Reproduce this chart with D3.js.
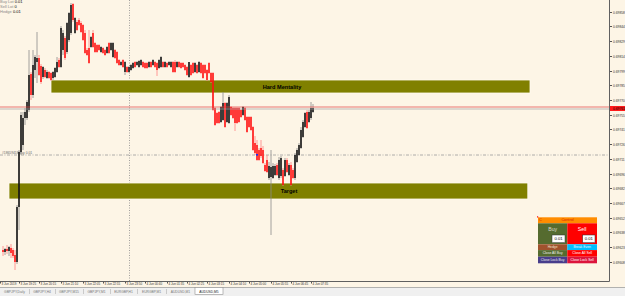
<!DOCTYPE html>
<html><head><meta charset="utf-8">
<script src="https://cdn.jsdelivr.net/npm/d3@7"></script>
<style>
body{margin:0;background:#fdf5e6;}
svg{display:block;font-family:"Liberation Sans",Arial,sans-serif;}
</style>
</head><body>
<svg id="chart" width="625" height="296"></svg>
<script>
// ---------- DATA (AUDUSD, M5) ----------
const opens = [
0.69620,0.69618,0.69621,0.69619,0.69622,0.69620,0.69615,0.69608,0.69663,0.69718,
0.69725,0.69752,0.69752,0.69760,0.69796,0.69775,0.69800,0.69808,0.69812,0.69804,
0.69793,0.69800,0.69792,0.69798,0.69797,0.69792,0.69793,0.69798,0.69810,0.69803,
0.69820,0.69832,0.69818,0.69830,0.69837,0.69866,0.69837,0.69848,0.69850,0.69847,
0.69845,0.69837,0.69820,0.69822,0.69823,0.69837,0.69827,0.69825,0.69825,0.69818,
0.69822,0.69820,0.69817,0.69827,0.69820,0.69813,0.69820,0.69818,0.69810,0.69805,
0.69810,0.69798,0.69803,0.69798,0.69800,0.69802,0.69808,0.69805,0.69803,0.69805,
0.69808,0.69807,0.69807,0.69803,0.69808,0.69805,0.69808,0.69807,0.69802,0.69803,
0.69808,0.69803,0.69807,0.69805,0.69803,0.69808,0.69808,0.69803,0.69808,0.69807,
0.69807,0.69805,0.69803,0.69793,0.69805,0.69807,0.69798,0.69805,0.69798,0.69807,
0.69805,0.69805,0.69800,0.69807,0.69797,0.69797,0.69762,0.69757,0.69758,0.69748,
0.69750,0.69767,0.69748,0.69747,0.69763,0.69762,0.69762,0.69762,0.69762,0.69760,
0.69755,0.69762,0.69753,0.69753,0.69753,0.69743,0.69727,0.69725,0.69720,0.69722,
0.69720,0.69705,0.69710,0.69692,0.69693,0.69692,0.69695,0.69705,0.69692,0.69694,
0.69700,0.69694,0.69710,0.69695,0.69705,0.69700,0.69692,0.69708,0.69715,0.69722,
0.69733,0.69743,0.69758,0.69748,0.69752,0.69758];
const highs = [
0.69624,0.69622,0.69625,0.69624,0.69626,0.69622,0.69620,0.69665,0.69720,0.69758,
0.69758,0.69762,0.69770,0.69820,0.69798,0.69820,0.69815,0.69838,0.69815,0.69806,
0.69804,0.69802,0.69800,0.69799,0.69798,0.69799,0.69803,0.69813,0.69812,0.69844,
0.69840,0.69834,0.69848,0.69858,0.69867,0.69867,0.69853,0.69850,0.69852,0.69849,
0.69846,0.69840,0.69822,0.69840,0.69834,0.69840,0.69828,0.69826,0.69826,0.69824,
0.69823,0.69821,0.69824,0.69828,0.69828,0.69828,0.69821,0.69819,0.69811,0.69809,
0.69811,0.69809,0.69804,0.69804,0.69806,0.69808,0.69809,0.69809,0.69810,0.69811,
0.69809,0.69808,0.69808,0.69809,0.69809,0.69811,0.69809,0.69808,0.69811,0.69814,
0.69809,0.69809,0.69808,0.69809,0.69809,0.69809,0.69810,0.69809,0.69809,0.69808,
0.69808,0.69806,0.69804,0.69808,0.69806,0.69808,0.69808,0.69806,0.69809,0.69808,
0.69806,0.69806,0.69801,0.69808,0.69798,0.69798,0.69763,0.69758,0.69759,0.69764,
0.69778,0.69768,0.69768,0.69775,0.69764,0.69763,0.69763,0.69763,0.69763,0.69761,
0.69764,0.69763,0.69754,0.69754,0.69754,0.69744,0.69734,0.69730,0.69722,0.69730,
0.69724,0.69707,0.69715,0.69708,0.69720,0.69707,0.69706,0.69707,0.69713,0.69714,
0.69702,0.69712,0.69712,0.69707,0.69708,0.69702,0.69717,0.69722,0.69727,0.69743,
0.69750,0.69758,0.69760,0.69760,0.69768,0.69766];
const lows = [
0.69614,0.69615,0.69616,0.69614,0.69612,0.69612,0.69600,0.69606,0.69640,0.69715,
0.69720,0.69745,0.69750,0.69758,0.69770,0.69772,0.69792,0.69787,0.69794,0.69786,
0.69791,0.69792,0.69791,0.69791,0.69789,0.69790,0.69792,0.69797,0.69802,0.69802,
0.69815,0.69810,0.69816,0.69828,0.69835,0.69848,0.69836,0.69839,0.69844,0.69837,
0.69829,0.69816,0.69814,0.69806,0.69822,0.69822,0.69817,0.69817,0.69819,0.69817,
0.69816,0.69814,0.69816,0.69816,0.69819,0.69812,0.69811,0.69806,0.69804,0.69804,
0.69802,0.69795,0.69797,0.69797,0.69799,0.69801,0.69802,0.69804,0.69802,0.69804,
0.69802,0.69801,0.69801,0.69802,0.69802,0.69804,0.69802,0.69794,0.69801,0.69802,
0.69802,0.69802,0.69802,0.69804,0.69802,0.69797,0.69797,0.69802,0.69802,0.69801,
0.69802,0.69799,0.69794,0.69792,0.69794,0.69796,0.69797,0.69796,0.69797,0.69796,
0.69791,0.69796,0.69789,0.69796,0.69787,0.69759,0.69744,0.69746,0.69746,0.69747,
0.69749,0.69742,0.69747,0.69746,0.69754,0.69751,0.69739,0.69746,0.69747,0.69752,
0.69754,0.69749,0.69737,0.69742,0.69739,0.69719,0.69715,0.69709,0.69709,0.69712,
0.69706,0.69698,0.69697,0.69690,0.69635,0.69691,0.69694,0.69694,0.69690,0.69692,
0.69684,0.69693,0.69697,0.69694,0.69684,0.69691,0.69690,0.69707,0.69714,0.69721,
0.69732,0.69742,0.69741,0.69747,0.69750,0.69757];
const closes = [
0.69618,0.69621,0.69619,0.69623,0.69617,0.69614,0.69608,0.69663,0.69718,0.69755,
0.69752,0.69758,0.69768,0.69795,0.69775,0.69805,0.69813,0.69812,0.69795,0.69788,
0.69803,0.69793,0.69798,0.69792,0.69790,0.69798,0.69802,0.69808,0.69803,0.69842,
0.69837,0.69812,0.69847,0.69857,0.69865,0.69850,0.69852,0.69840,0.69845,0.69838,
0.69830,0.69817,0.69815,0.69807,0.69833,0.69823,0.69818,0.69818,0.69820,0.69823,
0.69817,0.69815,0.69823,0.69817,0.69827,0.69827,0.69812,0.69807,0.69805,0.69808,
0.69803,0.69808,0.69798,0.69803,0.69805,0.69807,0.69803,0.69808,0.69809,0.69810,
0.69803,0.69802,0.69802,0.69808,0.69803,0.69810,0.69803,0.69800,0.69810,0.69813,
0.69803,0.69808,0.69803,0.69808,0.69808,0.69798,0.69798,0.69808,0.69803,0.69802,
0.69803,0.69800,0.69795,0.69808,0.69795,0.69797,0.69807,0.69797,0.69808,0.69797,
0.69792,0.69797,0.69790,0.69797,0.69788,0.69760,0.69745,0.69747,0.69747,0.69763,
0.69767,0.69743,0.69767,0.69773,0.69755,0.69752,0.69747,0.69747,0.69748,0.69753,
0.69763,0.69750,0.69738,0.69743,0.69740,0.69720,0.69717,0.69710,0.69710,0.69714,
0.69707,0.69699,0.69698,0.69704,0.69703,0.69704,0.69704,0.69695,0.69710,0.69712,
0.69685,0.69710,0.69698,0.69705,0.69685,0.69692,0.69715,0.69720,0.69725,0.69740,
0.69748,0.69757,0.69742,0.69758,0.69762,0.69762];

const priceTicks = [0.69858,0.69844,0.69829,0.69814,0.69799,0.69785,0.69770,0.69755,0.69741,
                    0.69726,0.69711,0.69696,0.69682,0.69667,0.69652,0.69638,0.69623,0.69608];
const timeTickIndex = [-1.5,8,18,29,40,50,61,71,82,92,102,113,123,134,144,154];
const timeLabels = ["3 Jun 2019","3 Jun 19:25","3 Jun 20:15","3 Jun 21:10","3 Jun 22:05","3 Jun 22:55",
  "3 Jun 23:50","4 Jun 00:40","4 Jun 01:35","4 Jun 02:25","4 Jun 03:15","4 Jun 04:10","4 Jun 05:00",
  "4 Jun 05:55","4 Jun 06:45","4 Jun 07:35"];
const daySeparatorIndex = [63];

const zoneNames = ["Hard Mentality","Target"];
const zoneStart = [24, 3];
const zoneEnd = [263.5, 262.4];
const zoneTop = [0.69790, 0.69687];
const zoneBottom = [0.69777, 0.69671];
const zoneLabelIndex = [139.5, 143];

const bidPrice = 0.69761, askPrice = 0.69763;
const orderPrice = 0.69715, orderIndex = 127;
const orderLabel = "#18659418 buy 0.01";
const infoNames = ["Buy Lot","Sell Lot","Hedge"];
const infoValues = ["0.01","0","0.01"];
const tabNames = ["GBPJPY,Daily","GBPJPY,H4","GBPJPY,M15","GBPJPY,M1","EURGBP,H1","EURGBP,M1","AUDUSD,M1","AUDUSD,M5"];

// ---------- DRAW ----------
const W = 625, H = 296, plotR = 609.5, plotB = 281.5;
const svg = d3.select("#chart");
svg.append("rect").attr("width",W).attr("height",H).attr("fill","#fdf5e6");

const x = d3.scaleLinear().domain([0, closes.length-1]).range([3, 313]);
const y = d3.scaleLinear().domain([0.69588, 0.69870]).range([282, 0]);

const plot = svg.append("g");

// day separator
plot.selectAll(".sep").data(daySeparatorIndex).enter().append("line")
  .attr("x1",d=>Math.round(x(d))+0.5).attr("x2",d=>Math.round(x(d))+0.5)
  .attr("y1",0).attr("y2",plotB).attr("stroke","#8a8a8a").attr("stroke-width",0.8).attr("stroke-dasharray","1,1.5");

// zones
zoneNames.forEach((n,i)=>{
  plot.append("rect").attr("x",x(zoneStart[i])).attr("y",y(zoneTop[i]))
    .attr("width",x(zoneEnd[i])-x(zoneStart[i])).attr("height",y(zoneBottom[i])-y(zoneTop[i]))
    .attr("fill","#808000").attr("stroke","#fffaf0").attr("stroke-width",0.8);
});

// order line
plot.append("line").attr("x1",0).attr("x2",plotR).attr("y1",y(orderPrice)).attr("y2",y(orderPrice))
  .attr("stroke","#9a9a9a").attr("stroke-width",0.8).attr("stroke-dasharray","3,1.5,1,1.5");
plot.append("text").attr("x",2).attr("y",y(orderPrice)-0.8).attr("font-size",3.3).attr("fill","#666").text(orderLabel);

// candles
const idx = d3.range(closes.length);
plot.selectAll(".wick").data(idx).enter().append("line")
  .attr("x1",i=>x(i)).attr("x2",i=>x(i))
  .attr("y1",i=>y(highs[i])).attr("y2",i=>y(lows[i]))
  .attr("stroke",i=>closes[i]>=opens[i]?"#8c8c8c":"#ff8080").attr("stroke-width",0.8);
plot.selectAll(".body").data(idx).enter().append("rect")
  .attr("x",i=>x(i)-0.7).attr("width",1.4)
  .attr("y",i=>y(Math.max(opens[i],closes[i])))
  .attr("height",i=>Math.max(1,Math.abs(y(opens[i])-y(closes[i]))))
  .attr("fill",i=>closes[i]>=opens[i]?"#000":"#ff0000");

// order marker
plot.append("rect").attr("x",x(orderIndex)-1).attr("y",y(orderPrice)-1).attr("width",2).attr("height",1.6).attr("fill","#1030ff");

// zone labels
zoneNames.forEach((n,i)=>{
  plot.append("text").attr("x",x(zoneLabelIndex[i])).attr("y",(y(zoneTop[i])+y(zoneBottom[i]))/2+2)
    .attr("font-size",5.6).attr("font-weight","bold").attr("fill","#000").attr("text-anchor","middle").text(n);
});

// bid/ask lines
plot.append("line").attr("x1",0).attr("x2",plotR).attr("y1",y(askPrice)).attr("y2",y(askPrice))
  .attr("stroke","#e04040").attr("stroke-width",0.7);
plot.append("line").attr("x1",0).attr("x2",plotR).attr("y1",y(bidPrice)).attr("y2",y(bidPrice))
  .attr("stroke","#a0a0a0").attr("stroke-width",0.7);

// info text
infoNames.forEach((n,i)=>{
  const t = svg.append("text").attr("x",0).attr("y",3.2+i*5).attr("font-size",4);
  t.append("tspan").attr("fill","#8a8a8a").text(n+" ");
  t.append("tspan").attr("fill","#000").text(infoValues[i]);
});

// price axis
const yAxis = d3.axisRight(y).tickValues(priceTicks).tickFormat(d3.format(".5f")).tickSize(2.5).tickPadding(1);
const ya = svg.append("g").attr("transform",`translate(${plotR},0)`).call(yAxis);
ya.select(".domain").remove();
ya.selectAll("line").attr("stroke","#555");
ya.selectAll("text").attr("font-size",3.3).attr("fill","#333").attr("font-family","Liberation Sans, Arial, sans-serif");

// bid label
svg.append("rect").attr("x",plotR+0.5).attr("y",y(bidPrice)-3).attr("width",15).attr("height",5).attr("fill","#ff1a1a");
svg.append("text").attr("x",plotR+3.5).attr("y",y(bidPrice)+1.2).attr("font-size",3.3).attr("fill","#000").text(d3.format(".5f")(bidPrice));

// time axis
const xAxis = d3.axisBottom(x).tickValues(timeTickIndex).tickFormat((d,i)=>timeLabels[i]).tickSize(2).tickPadding(0);
const xa = svg.append("g").attr("transform",`translate(0,${plotB})`).call(xAxis);
xa.select(".domain").remove();
xa.selectAll("line").attr("stroke","#555");
xa.selectAll("text").attr("text-anchor","start").attr("x",1).attr("y",1).attr("dy","0.75em")
  .attr("font-size",3).attr("fill","#333").attr("font-family","Liberation Sans, Arial, sans-serif");

// borders
svg.append("line").attr("x1",0).attr("x2",plotR).attr("y1",plotB).attr("y2",plotB).attr("stroke","#606060").attr("stroke-width",1);
svg.append("line").attr("x1",plotR).attr("x2",plotR).attr("y1",0).attr("y2",plotB).attr("stroke","#606060").attr("stroke-width",1);

// tab bar
svg.append("rect").attr("x",0).attr("y",287.5).attr("width",W).attr("height",9).attr("fill","#f0f0f0");
svg.append("line").attr("x1",0).attr("x2",W).attr("y1",287.5).attr("y2",287.5).attr("stroke","#a0a0a0").attr("stroke-width",0.8);
const tabX = [0,29,55,83,110,137,166,195,223];
tabNames.forEach((n,i)=>{
  const active = i===tabNames.length-1;
  if(active){
    svg.append("rect").attr("x",tabX[i]).attr("y",287.5).attr("width",tabX[i+1]-tabX[i]).attr("height",7)
      .attr("fill","#fff").attr("stroke","#909090").attr("stroke-width",0.6);
  } else if(i>0){
    svg.append("line").attr("x1",tabX[i]+0.5).attr("x2",tabX[i]+0.5).attr("y1",289).attr("y2",294).attr("stroke","#b0b0b0").attr("stroke-width",0.6);
  }
  svg.append("text").attr("x",(tabX[i]+tabX[i+1])/2).attr("y",292.8).attr("text-anchor","middle")
    .attr("font-size",3.3).attr("fill",active?"#222":"#777").text(n);
});

// control panel
const cp = svg.append("g");
const L = 538, M = 567.3, R = 597;
function cell(x0,y0,w,h,fill){cp.append("rect").attr("x",x0).attr("y",y0).attr("width",w).attr("height",h).attr("fill",fill);}
function label(xc,yc,txt,size,fill){cp.append("text").attr("x",xc).attr("y",yc).attr("text-anchor","middle")
  .attr("dominant-baseline","central").attr("font-size",size).attr("fill",fill).text(txt);}
cell(L,217.3,R-L,6,"#ff8c00");
cp.append("rect").attr("x",537).attr("y",216.3).attr("width",1.2).attr("height",1.2).attr("fill","#ff0000");
cp.append("text").attr("x",539).attr("y",220.3).attr("dominant-baseline","central").attr("font-size",3.8).attr("fill","#d02000").text("C");
label((L+R)/2,220.3,"Control",3.8,"#d82000");
cell(L,223.3,M-L,21,"#556b2f");
cell(M,223.3,R-M,21,"#ff0000");
label((L+M)/2,228.8,"Buy",5.2,"#d8d8c8");
label((M+R)/2,228.8,"Sell",5.2,"#ffffff");
cp.append("rect").attr("x",552).attr("y",235).attr("width",13).attr("height",7.7).attr("fill","#fff").attr("stroke","#333").attr("stroke-width",0.5);
cp.append("rect").attr("x",582.7).attr("y",235).attr("width",12.3).attr("height",7.7).attr("fill","#fff").attr("stroke","#333").attr("stroke-width",0.5);
label(558.5,238.9,"0.01",4.2,"#000");
label(588.8,238.9,"0.01",4.2,"#000");
cell(L,244.3,M-L,5.8,"#a0522d");
cell(M,244.3,R-M,5.8,"#00bfff");
label((L+M)/2,247.2,"Hedge",3.4,"#f0e0d0");
label((M+R)/2,247.2,"Break Even",3.4,"#e8f8ff");
cell(L,250.1,M-L,6.6,"#556b2f");
cell(M,250.1,R-M,6.6,"#ff0000");
label((L+M)/2,253.4,"Close All Buy",3.4,"#f0f0f0");
label((M+R)/2,253.4,"Close All Sell",3.4,"#ffffff");
cell(L,256.7,M-L,6.6,"#483d8b");
cell(M,256.7,R-M,6.6,"#dc143c");
label((L+M)/2,260,"Close Lock Buy",3.4,"#f0f0f0");
label((M+R)/2,260,"Close Lock Sell",3.4,"#ffffff");
</script>
</body></html>
